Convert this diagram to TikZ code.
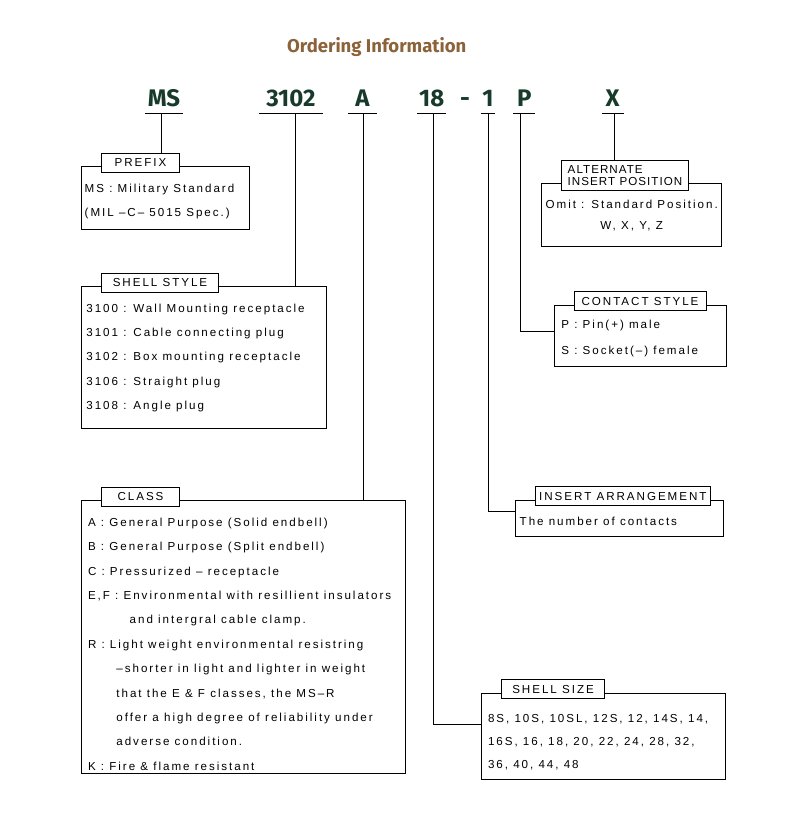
\documentclass[tikz,border=0pt]{standalone}
\usepackage{fontspec}
\setmainfont{Liberation Sans}[LetterSpace=17]
\newfontfamily\codefont{Fira Sans}
\usepackage{tikz}
\usetikzlibrary{positioning}

\definecolor{titleBrown}{HTML}{8C6239}
\definecolor{codeGreen}{HTML}{183A2B}

\tikzset{
  code/.style={font=\codefont\bfseries\fontsize{24}{26}\selectfont, text=codeGreen, anchor=base, inner xsep=0pt, inner ysep=6.6pt, text depth=0pt},
  panel/.style={draw, line width=1pt, inner sep=0pt},
  tab/.style={draw, line width=1pt, fill=white, inner sep=0pt, minimum height=19pt, font=\fontsize{11.6}{12.6}\selectfont},
  body/.style={anchor=base west, inner sep=0pt, font=\fontsize{11.6}{24.4}\selectfont},
  link/.style={line width=1pt}
}

\begin{document}
\begin{tikzpicture}[x=1pt, y=-1pt]
\useasboundingbox (0,0) rectangle (790,825);

% title and part number
\node[font=\codefont\bfseries\fontsize{18.5}{20}\selectfont, text=titleBrown, anchor=base] (title) at (376.7,52) {Ordering Information};
\node[code, minimum width=37.7pt] (ms) at (163.9,106.7) {MS};
\node[code, minimum width=63.7pt] (shell) at (290.9,106.7) {3102};
\node[code, minimum width=28.4pt] (cls) at (362.5,106.7) {A};
\node[code, minimum width=28.7pt] (size) at (431.7,106.7) {18};
\node[code] (dash) at (465,106.7) {-};
\node[code, minimum width=14.3pt] (insert) at (487.9,106.7) {1};
\node[code, minimum width=21.7pt] (contact) at (524.2,106.7) {P};
\node[code, minimum width=21.6pt] (alt) at (612.5,106.7) {X};
\foreach \n in {ms,shell,cls,size,insert,contact,alt}
  \draw[link] (\n.south west) -- (\n.south east);

\coordinate (msdrop) at (161.7,113.3);
\coordinate (shelldrop) at (295.7,113.3);
\coordinate (clsdrop) at (363.3,113.3);
\coordinate (sizedrop) at (433.3,113.3);
\coordinate (insertdrop) at (488.3,113.3);
\coordinate (contactdrop) at (520,113.3);
\coordinate (altdrop) at (614.3,113.3);

% boxes
\node[panel, minimum width=167.3pt, minimum height=62.6pt] (prefix) at (165.35,198) {};
\node[panel, minimum width=244.3pt, minimum height=141.6pt] (shellbox) at (203.85,357.5) {};
\node[panel, minimum width=323.3pt, minimum height=272.6pt] (classbox) at (243.35,637) {};
\node[panel, minimum width=180pt, minimum height=63.4pt] (altbox) at (631.7,215) {};
\node[panel, minimum width=172pt, minimum height=61.7pt] (contactbox) at (640,335.85) {};
\node[panel, minimum width=208.3pt, minimum height=36.7pt] (insertbox) at (619.15,518.35) {};
\node[panel, minimum width=243.3pt, minimum height=86pt] (sizebox) at (603.35,736.3) {};

% tabs
\node[tab, minimum width=77.6pt, above right=-6.6pt and 20pt of prefix.north west] (prefixtab) {PREFIX};
\node[tab, minimum width=116.6pt, above right=-6.6pt and 20pt of shellbox.north west] (shelltab) {SHELL STYLE};
\node[tab, minimum width=77.6pt, above right=-6.6pt and 20pt of classbox.north west] (classtab) {CLASS};
\node[tab, minimum width=126.6pt, minimum height=30pt, align=left, font=\fontsize{11.6}{12.6}\selectfont\addfontfeatures{LetterSpace=9}, above right=-8.4pt and 20pt of altbox.north west] (alttab) {ALTERNATE\\INSERT POSITION};
\node[tab, minimum width=132pt, above right=-6.6pt and 20pt of contactbox.north west] (contacttab) {CONTACT STYLE};
\node[tab, minimum width=175.7pt, above right=-6.6pt and 20pt of insertbox.north west] (inserttab) {INSERT ARRANGEMENT};
\node[tab, minimum width=102.7pt, above right=-6.6pt and 20pt of sizebox.north west] (sizetab) {SHELL SIZE};

% box texts
\node[body] (prefixtxt) at ([xshift=3.3pt, yshift=-25.9pt]prefix.north west) {\begin{tabular}[t]{@{}l@{}}MS : Military Standard\\(MIL –C– 5015 Spec.)\end{tabular}};
\node[body] (shelltxt) at ([xshift=5pt, yshift=-25.8pt]shellbox.north west) {\begin{tabular}[t]{@{}l@{}}3100 : Wall Mounting receptacle\\3101 : Cable connecting plug\\3102 : Box mounting receptacle\\3106 : Straight plug\\3108 : Angle plug\end{tabular}};
\node[body] (classtxt) at ([xshift=6.6pt, yshift=-26pt]classbox.north west) {\begin{tabular}[t]{@{}l@{}}A : General Purpose (Solid endbell)\\B : General Purpose (Split endbell)\\C : Pressurized – receptacle\\E,F : Environmental with resillient insulators\\\hspace*{41.7pt}and intergral cable clamp.\\R : Light weight environmental resistring\\\hspace*{28.4pt}–shorter in light and lighter in weight\\\hspace*{28.4pt}that the E \& F classes, the MS–R\\\hspace*{28.4pt}offer a high degree of reliability under\\\hspace*{28.4pt}adverse condition.\\K : Fire \& flame resistant\end{tabular}};
\node[body, anchor=base, font=\fontsize{11.6}{21}\selectfont] (alttxt) at ([yshift=-25.9pt]altbox.north) {\begin{tabular}[t]{@{}c@{}}Omit : Standard Position.\\W, X, Y, Z\end{tabular}};
\node[body, font=\fontsize{11.6}{26.3}\selectfont] (contacttxt) at ([xshift=7.7pt, yshift=-23.5pt]contactbox.north west) {\begin{tabular}[t]{@{}l@{}}P : Pin(+) male\\S : Socket(–) female\end{tabular}};
\node[body] (inserttxt) at ([xshift=5pt, yshift=-25.9pt]insertbox.north west) {The number of contacts};
\node[body, font=\fontsize{11.6}{23}\selectfont] (sizetxt) at ([xshift=6.6pt, yshift=-30pt]sizebox.north west) {\begin{tabular}[t]{@{}l@{}}8S, 10S, 10SL, 12S, 12, 14S, 14,\\16S, 16, 18, 20, 22, 24, 28, 32,\\36, 40, 44, 48\end{tabular}};

% connectors
\draw[link] (msdrop) -- (msdrop |- prefixtab.north);
\draw[link] (shelldrop) -- (shelldrop |- shellbox.north);
\draw[link] (clsdrop) -- (clsdrop |- classbox.north);
\draw[link] (sizedrop) |- ([yshift=-31.7pt]sizebox.north west);
\draw[link] (insertdrop) |- ([yshift=-11.7pt]insertbox.north west);
\draw[link] (contactdrop) |- ([yshift=-26.7pt]contactbox.north west);
\draw[link] (altdrop) -- (altdrop |- alttab.north);
\end{tikzpicture}
\end{document}
